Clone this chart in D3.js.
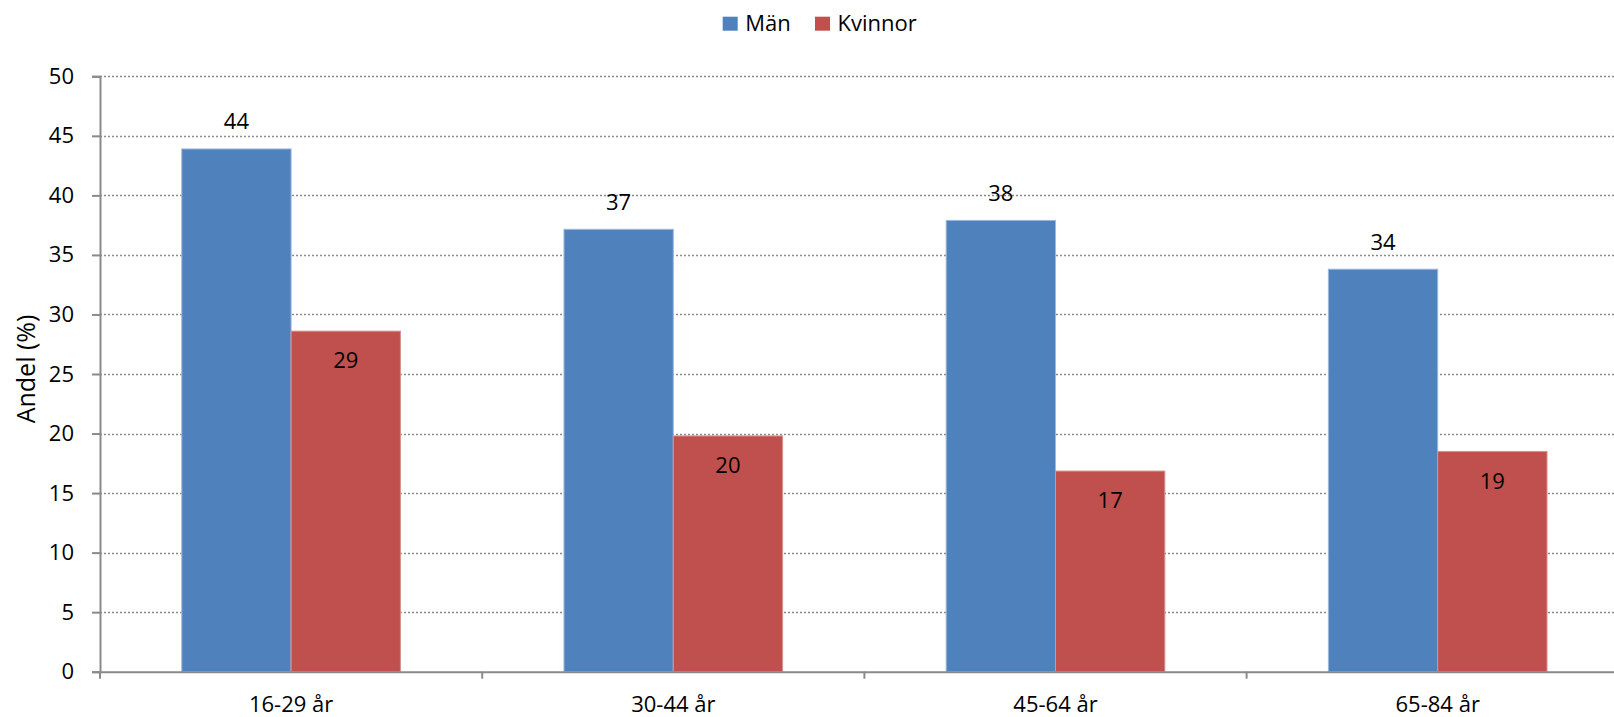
<!DOCTYPE html>
<html>
<head>
<meta charset="utf-8">
<script src="https://cdn.jsdelivr.net/npm/d3@7"></script>
<style>
  html, body { margin: 0; padding: 0; background: #fff; }
  svg { display: block; font-family: "Open Sans", "Liberation Sans", sans-serif; }
</style>
</head>
<body>
<svg id="chart" width="1614" height="717"></svg>
<script>
const categories = ["16-29 år", "30-44 år", "45-64 år", "65-84 år"];
const seriesNames = ["Män", "Kvinnor"];
const manValues = [43.9, 37.15, 37.9, 33.8];
const kvinnorValues = [28.6, 19.8, 16.85, 18.5];
const manLabels = ["44", "37", "38", "34"];
const kvinnorLabels = ["29", "20", "17", "19"];
const yTicks = [0, 5, 10, 15, 20, 25, 30, 35, 40, 45, 50];
const colors = ["#4F81BD", "#C0504D"];
const strokes = ["#9fb8dc", "#d8918f"];

(function () {
const svg = d3.select("#chart");
const plotLeft = 100, plotTop = 76.3, plotBottom = 671.7;
const catStep = 382.2;
const plotRight = plotLeft + catStep * categories.length;

const x0 = d3.scaleBand().domain(categories).range([plotLeft, plotRight]).padding(0);
const x1 = d3.scaleBand().domain(seriesNames).range([0, x0.bandwidth()])
  .paddingInner(0).paddingOuter(0.748);
const y = d3.scaleLinear().domain([0, 50]).range([plotBottom, plotTop]);

const data = categories.map((c, i) => ({
  cat: c,
  vals: [
    { s: seriesNames[0], v: manValues[i], lab: manLabels[i], k: 0 },
    { s: seriesNames[1], v: kvinnorValues[i], lab: kvinnorLabels[i], k: 1 }
  ]
}));

// gridlines
svg.append("g").selectAll("line").data(yTicks.filter(d => d > 0)).join("line")
  .attr("x1", plotLeft).attr("x2", 1614)
  .attr("y1", d => Math.round(y(d)) + 0.5).attr("y2", d => Math.round(y(d)) + 0.5)
  .attr("stroke", "#8a8a8a").attr("stroke-width", 1.3).attr("stroke-dasharray", "2,2");

// bars
const groups = svg.append("g").selectAll("g").data(data).join("g")
  .attr("transform", d => `translate(${x0(d.cat)},0)`);
groups.selectAll("rect").data(d => d.vals).join("rect")
  .attr("x", d => x1(d.s)).attr("width", x1.bandwidth())
  .attr("y", d => y(d.v)).attr("height", d => y(0) - y(d.v))
  .attr("fill", d => colors[d.k]).attr("stroke", d => strokes[d.k]).attr("stroke-width", 1);

// labels
groups.selectAll("text").data(d => d.vals).join("text")
  .attr("x", d => x1(d.s) + x1.bandwidth() / 2)
  .attr("y", d => d.k === 0 ? y(d.v) - 19.5 : y(d.v) + 37.2)
  .attr("text-anchor", "middle").attr("font-size", 22).attr("fill", "#000")
  .text(d => d.lab);

// y axis
const yAxis = d3.axisLeft(y).tickValues(yTicks).tickSize(8).tickPadding(18).tickFormat(d3.format("d"));
const gy = svg.append("g").attr("transform", `translate(${plotLeft},0)`).call(yAxis);
gy.select(".domain").attr("stroke", "#8a8a8a").attr("stroke-width", 2);
gy.selectAll(".tick line").attr("stroke", "#8a8a8a").attr("stroke-width", 2);
gy.selectAll(".tick text").attr("font-size", 22).attr("fill", "#000")
  .attr("font-family", "Open Sans, Liberation Sans, sans-serif");

// x axis
const xAxis = d3.axisBottom(x0).tickSize(0).tickPadding(0);
const gx = svg.append("g").attr("transform", `translate(0,${plotBottom})`).call(xAxis);
gx.select(".domain").attr("stroke", "#8a8a8a").attr("stroke-width", 2);
gx.selectAll(".tick text").attr("font-size", 22).attr("fill", "#000").attr("dy", 0)
  .attr("y", 712.4 - plotBottom).attr("font-family", "Open Sans, Liberation Sans, sans-serif");
// category boundary ticks
const bounds = categories.map(c => x0(c));
gx.append("g").selectAll("line").data(bounds).join("line")
  .attr("x1", d => d).attr("x2", d => d).attr("y1", 0).attr("y2", 7)
  .attr("stroke", "#8a8a8a").attr("stroke-width", 2);

// y title
svg.append("text")
  .attr("transform", "translate(35,369) rotate(-90)")
  .attr("text-anchor", "middle").attr("font-size", 25).attr("fill", "#000")
  .text("Andel (%)");

// legend
const legend = svg.append("g");
const legX = [722.7, 815];
seriesNames.forEach((s, i) => {
  legend.append("rect").attr("x", legX[i]).attr("y", 16.7).attr("width", 15).attr("height", 14)
    .attr("fill", colors[i]);
  legend.append("text").attr("x", legX[i] + 22.5).attr("y", 30.7)
    .attr("font-size", 22).attr("fill", "#000").text(s);
});
})();
</script>
</body>
</html>
